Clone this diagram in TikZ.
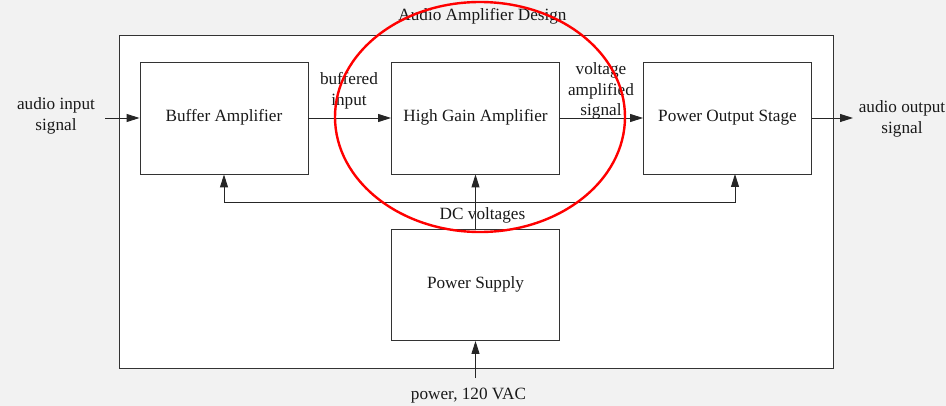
\documentclass[tikz,border=0pt]{standalone}
\usepackage{fontspec}
\setmainfont{Liberation Serif}
\usetikzlibrary{arrows.meta}
\begin{document}
\begin{tikzpicture}[x=1pt,y=-1pt,
  every node/.style={font=\fontsize{17.2}{20.5}\selectfont, text=black!90},
  block/.style={draw=black!80, line width=0.9pt, fill=white, minimum width=168pt, minimum height=112pt, inner sep=0pt},
  lbl/.style={align=center, inner sep=0pt},
  arr/.style={draw=black!85, line width=0.9pt, -{Triangle[length=13pt,width=8pt]}},
  wire/.style={draw=black!85, line width=0.9pt}]
\fill[black!5] (0,0) rectangle (946,406);
\useasboundingbox (0,0) rectangle (946,406);
\draw[draw=black!80, line width=0.9pt, fill=white] (119,35) rectangle (833,368);
\node[lbl] (title) at (482.5,16.5) {Audio Amplifier Design};
\node[block, text depth=0pt, text height=8pt] (ba) at (224,118) {Buffer Amplifier};
\node[block, text depth=0pt, text height=8pt] (hg) at (475.5,118) {High Gain Amplifier};
\node[block, text depth=0pt, text height=8pt] (po) at (727.5,118) {Power Output Stage};
\node[block, minimum height=111pt, text depth=0pt, text height=8pt] (ps) at (475.5,285) {Power Supply};
\node[lbl] (ain) at (56,116) {audio input\\signal};
\node[lbl] (bin) at (349,91) {buffered\\input};
\node[lbl] (vas) at (601,91) {voltage\\amplified\\signal};
\node[lbl] (aout) at (902,119) {audio output\\signal};
\node[lbl] (dc) at (482.5,215.5) {DC voltages};
\node[lbl] (pw) at (468.5,396) {power, 120 VAC};
\coordinate (ainE) at (105,118);
\coordinate (aoutW) at (853,118);
\coordinate (pwN) at (475.5,378);
\coordinate (j) at (475.5,202);
\coordinate (poin) at (735,174);
\draw[arr] (ainE) -- (ba.west);
\draw[arr] (ba.east) -- (hg.west);
\draw[arr] (hg.east) -- (po.west);
\draw[arr] (po.east) -- (aoutW);
\draw[arr] (ps.north) -- (hg.south);
\draw[arr] (j) -| (ba.south);
\draw[arr] (j) -| (poin);
\draw[arr] (pwN) -- (ps.south);
\draw[red, line width=2.4pt] (480,117) ellipse [x radius=145, y radius=115];
\end{tikzpicture}
\end{document}
